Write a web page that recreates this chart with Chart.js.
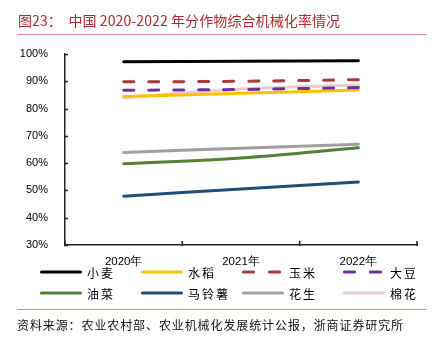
<!DOCTYPE html>
<html>
<head>
<meta charset="utf-8">
<script src="https://cdn.jsdelivr.net/npm/chart.js@4.4.0/dist/chart.umd.min.js"></script>
<style>
  html, body { margin: 0; padding: 0; background: #fff; }
  #wrap { position: relative; width: 441px; height: 340px; overflow: hidden; }
  #title { position: absolute; left: 18px; top: 10px; font: 14px "Noto Sans CJK SC", sans-serif; color: #b2282e; white-space: pre; line-height: 20px; letter-spacing: 0.1px; }
  .rule { position: absolute; left: 17px; width: 410px; height: 1px; background: #e38b8b; }
  #source { position: absolute; left: 17px; top: 316px; font: 12px "Noto Sans CJK SC", sans-serif; color: #111; white-space: pre; line-height: 18px; letter-spacing: 0.9px; }
  #c { position: absolute; left: 0; top: 0; }
</style>
</head>
<body>
<div id="wrap">
  <canvas id="c" width="441" height="340"></canvas>
  <div id="title">图23：  中国 2020-2022 年分作物综合机械化率情况</div>
  <div class="rule" style="top:34px;"></div>
  <div class="rule" style="top:309px;"></div>
  <div id="source">资料来源：农业农村部、农业机械化发展统计公报，浙商证券研究所</div>
</div>
<script>
// Years on the category axis
const years = ['2020年', '2021年', '2022年'];

// Comprehensive mechanization rate by crop (%)
const wheat    = [97.2, 97.3, 97.5];
const rice     = [84.4, 85.6, 86.8];
const corn     = [89.8, 90.0, 90.6];
const soybean  = [86.7, 87.0, 87.7];
const rapeseed = [59.8, 61.9, 65.6];
const potato   = [47.9, 50.5, 53.1];
const peanut   = [63.9, 65.5, 66.9];
const cotton   = [84.0, 87.2, 88.6];

// Y axis range and step
const yMin = 30, yMax = 100, yStep = 10;

const seriesNames = ['小麦', '水稻', '玉米', '大豆', '油菜', '马铃薯', '花生', '棉花'];
const seriesData  = [wheat, rice, corn, soybean, rapeseed, potato, peanut, cotton];
const seriesColor = ['#000000', '#ffc000', '#a83a3a', '#7030a0', '#548235', '#1f4e79', '#a0a0a0', '#e8cdcd'];
const seriesDash  = [[], [], [10, 15], [10, 15], [], [], [], []];

// draw order: pale lines underneath so the yellow rice line shows through where they overlap
const drawOrder = [0, 7, 1, 2, 3, 4, 5, 6];

const datasets = seriesNames.map((name, i) => ({
  label: name,
  data: seriesData[i],
  borderColor: seriesColor[i],
  backgroundColor: seriesColor[i],
  borderWidth: 3,
  borderDash: seriesDash[i],
  borderCapStyle: 'round',
  pointRadius: 0,
  pointHoverRadius: 0,
  tension: 0.35,
  fill: false,
  order: drawOrder.length - drawOrder.indexOf(i)
}));

// Inward tick marks on both axes
const innerTicks = {
  id: 'innerTicks',
  afterDatasetsDraw(chart) {
    const ctx = chart.ctx;
    const y = chart.scales.y, x = chart.scales.x;
    const a = chart.chartArea;
    ctx.save();
    ctx.strokeStyle = '#222';
    ctx.lineWidth = 1.5;
    ctx.beginPath();
    y.ticks.forEach((t, i) => {
      const py = Math.round(y.getPixelForTick(i)) + 0.5;
      ctx.moveTo(a.left - 1, py);
      ctx.lineTo(a.left + 3, py);
    });
    for (let i = 0; i <= years.length; i++) {
      const px = x.getPixelForValue(i - 0.5);
      ctx.moveTo(px, a.bottom + 1);
      ctx.lineTo(px, a.bottom - 4);
    }
    ctx.stroke();
    ctx.restore();
  }
};

// Legend in four columns, two rows, drawn with each dataset's own stroke style
const legendPlugin = {
  id: 'lineLegend',
  afterDraw(chart) {
    const ctx = chart.ctx;
    const colX = [40, 141, 242, 343];
    const rowY = [272, 293];
    ctx.save();
    chart.data.datasets.forEach((ds, i) => {
      const cx = colX[i % 4], cy = rowY[Math.floor(i / 4)];
      const dashed = ds.borderDash && ds.borderDash.length;
      const w = dashed ? 39 : 42;
      ctx.beginPath();
      ctx.strokeStyle = ds.borderColor;
      ctx.lineWidth = 3.2;
      ctx.lineCap = 'round';
      ctx.setLineDash(dashed ? [10, 16] : []);
      ctx.moveTo(cx + 1.5, cy);
      ctx.lineTo(cx + w - 1.5, cy);
      ctx.stroke();
      ctx.setLineDash([]);
      ctx.fillStyle = '#000';
      ctx.font = '12px "Noto Sans CJK SC", sans-serif';
      ctx.textBaseline = 'middle';
      ctx.textAlign = 'left';
      let tx = cx + 47;
      for (const ch of ds.label) {
        ctx.fillText(ch, tx, cy + 1);
        tx += ctx.measureText(ch).width + 2;
      }
    });
    ctx.restore();
  }
};

new Chart(document.getElementById('c'), {
  type: 'line',
  data: { labels: years, datasets },
  options: {
    responsive: false,
    animation: false,
    devicePixelRatio: 1,
    layout: { padding: { left: 0, right: 24, top: 54, bottom: 70 } },
    plugins: { legend: { display: false }, tooltip: { enabled: false } },
    scales: {
      x: {
        offset: true,
        grid: { display: false, offset: true },
        border: { display: true, color: '#222', width: 1.5 },
        ticks: { color: '#000', font: { family: 'Liberation Sans', size: 11.5 }, padding: 2, maxRotation: 0 },
        afterFit(s) { s.height = 25; }
      },
      y: {
        min: yMin, max: yMax,
        grid: { display: false },
        border: { display: true, color: '#222', width: 1.5 },
        ticks: {
          stepSize: yStep,
          color: '#000',
          font: { family: 'Liberation Sans', size: 11 },
          padding: 9,
          callback: v => v + '%'
        },
        afterFit(s) { s.width = 65; }
      }
    }
  },
  plugins: [innerTicks, legendPlugin]
});
</script>
</body>
</html>
